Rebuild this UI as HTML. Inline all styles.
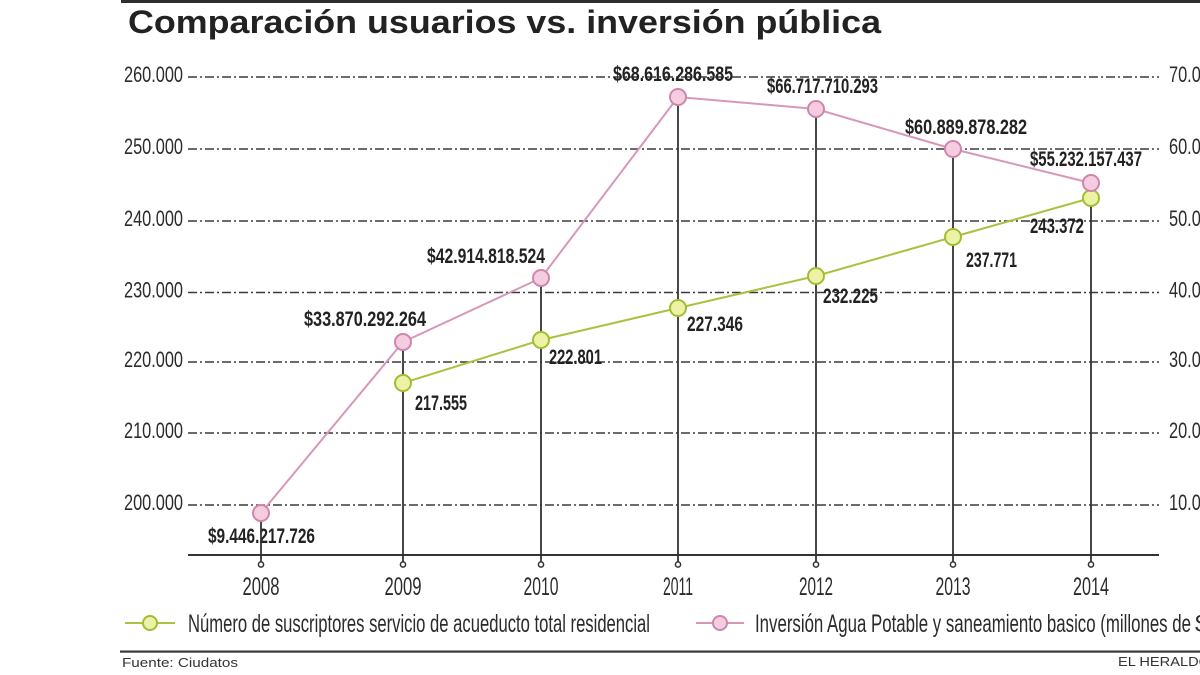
<!DOCTYPE html>
<html>
<head>
<meta charset="utf-8">
<style>
  html, body { margin: 0; padding: 0; background: #ffffff; }
  body { width: 1200px; height: 675px; overflow: hidden; }
  svg { display: block; }
  .cond { font-family: "Liberation Sans Narrow", "Liberation Sans", sans-serif; fill: #2b2b2b; }
  .ax { font-size: 22px; }
  .lbl { font-size: 21px; font-weight: bold; fill: #222; }
  .yr { font-size: 25px; }
  .leg { font-size: 25px; }
</style>
</head>
<body>
<svg width="1200" height="675" viewBox="0 0 1200 675" xmlns="http://www.w3.org/2000/svg">
  <rect x="0" y="0" width="1200" height="675" fill="#ffffff"/>

  <!-- top rule -->
  <rect x="121" y="0" width="1079" height="3" fill="#2e2e2e"/>

  <!-- title -->
  <text x="128" y="33" font-family="Liberation Sans, sans-serif" font-weight="bold" font-size="32" fill="#222" textLength="753" lengthAdjust="spacingAndGlyphs">Comparación usuarios vs. inversión pública</text>

  <!-- gridlines -->
  <g stroke="#3a3a3a" stroke-width="1.6" stroke-dasharray="9 3 2 3" fill="none">
    <line x1="188" y1="77" x2="1159" y2="77"/>
    <line x1="188" y1="149" x2="1159" y2="149"/>
    <line x1="188" y1="221" x2="1159" y2="221"/>
    <line x1="188" y1="292.5" x2="1159" y2="292.5"/>
    <line x1="188" y1="362" x2="1159" y2="362"/>
    <line x1="188" y1="433" x2="1159" y2="433"/>
    <line x1="188" y1="505" x2="1159" y2="505"/>
  </g>

  <!-- left axis labels -->
  <g class="cond ax">
    <text x="124" y="82" textLength="59" lengthAdjust="spacingAndGlyphs">260.000</text>
    <text x="124" y="154" textLength="59" lengthAdjust="spacingAndGlyphs">250.000</text>
    <text x="124" y="226" textLength="59" lengthAdjust="spacingAndGlyphs">240.000</text>
    <text x="124" y="297.5" textLength="59" lengthAdjust="spacingAndGlyphs">230.000</text>
    <text x="124" y="367" textLength="59" lengthAdjust="spacingAndGlyphs">220.000</text>
    <text x="124" y="438" textLength="59" lengthAdjust="spacingAndGlyphs">210.000</text>
    <text x="124" y="510" textLength="59" lengthAdjust="spacingAndGlyphs">200.000</text>
  </g>

  <!-- right axis labels (clipped) -->
  <g class="cond ax">
    <text x="1169" y="82" textLength="50" lengthAdjust="spacingAndGlyphs">70.000</text>
    <text x="1169" y="154" textLength="50" lengthAdjust="spacingAndGlyphs">60.000</text>
    <text x="1169" y="226" textLength="50" lengthAdjust="spacingAndGlyphs">50.000</text>
    <text x="1169" y="297.5" textLength="50" lengthAdjust="spacingAndGlyphs">40.000</text>
    <text x="1169" y="367" textLength="50" lengthAdjust="spacingAndGlyphs">30.000</text>
    <text x="1169" y="438" textLength="50" lengthAdjust="spacingAndGlyphs">20.000</text>
    <text x="1169" y="510" textLength="50" lengthAdjust="spacingAndGlyphs">10.000</text>
  </g>

  <!-- x baseline -->
  <line x1="188" y1="555" x2="1159" y2="555" stroke="#333" stroke-width="2"/>

  <!-- data labels: pink -->
  <g class="cond lbl">
    <text x="208" y="543" textLength="107" lengthAdjust="spacingAndGlyphs">$9.446.217.726</text>
    <text x="304" y="326" textLength="122" lengthAdjust="spacingAndGlyphs">$33.870.292.264</text>
    <text x="427" y="263" textLength="118" lengthAdjust="spacingAndGlyphs">$42.914.818.524</text>
    <text x="613" y="81" textLength="120" lengthAdjust="spacingAndGlyphs">$68.616.286.585</text>
    <text x="767" y="93" textLength="111" lengthAdjust="spacingAndGlyphs">$66.717.710.293</text>
    <text x="905" y="134" textLength="122" lengthAdjust="spacingAndGlyphs">$60.889.878.282</text>
    <text x="1030" y="166" textLength="112" lengthAdjust="spacingAndGlyphs">$55.232.157.437</text>
  </g>
  <!-- data labels: green -->
  <g class="cond lbl">
    <text x="415" y="410" textLength="52" lengthAdjust="spacingAndGlyphs">217.555</text>
    <text x="549" y="364" textLength="53" lengthAdjust="spacingAndGlyphs">222.801</text>
    <text x="687" y="331" textLength="56" lengthAdjust="spacingAndGlyphs">227.346</text>
    <text x="823" y="303" textLength="55" lengthAdjust="spacingAndGlyphs">232.225</text>
    <text x="966" y="267" textLength="51" lengthAdjust="spacingAndGlyphs">237.771</text>
    <text x="1030" y="233" textLength="54" lengthAdjust="spacingAndGlyphs">243.372</text>
  </g>

  <!-- vertical drop lines -->
  <g stroke="#333" stroke-width="1.8">
    <line x1="261" y1="513" x2="261" y2="562"/>
    <line x1="403" y1="342" x2="403" y2="562"/>
    <line x1="541" y1="278" x2="541" y2="562"/>
    <line x1="678" y1="97" x2="678" y2="562"/>
    <line x1="816" y1="109" x2="816" y2="562"/>
    <line x1="953" y1="149" x2="953" y2="562"/>
    <line x1="1091" y1="183" x2="1091" y2="562"/>
  </g>
  <!-- tick circles -->
  <g stroke="#333" stroke-width="1.5" fill="#fff">
    <circle cx="261" cy="564.5" r="2.6"/>
    <circle cx="403" cy="564.5" r="2.6"/>
    <circle cx="541" cy="564.5" r="2.6"/>
    <circle cx="678" cy="564.5" r="2.6"/>
    <circle cx="816" cy="564.5" r="2.6"/>
    <circle cx="953" cy="564.5" r="2.6"/>
    <circle cx="1091" cy="564.5" r="2.6"/>
  </g>

  <!-- green series -->
  <polyline points="403,383 541,340 678,308 816,276 953,237 1091,198" fill="none" stroke="#a9c23f" stroke-width="2"/>
  <g fill="#eef2a6" stroke="#a2bd32" stroke-width="2">
    <circle cx="403" cy="383" r="8"/>
    <circle cx="541" cy="340" r="8"/>
    <circle cx="678" cy="308" r="8"/>
    <circle cx="816" cy="276" r="8"/>
    <circle cx="953" cy="237" r="8"/>
    <circle cx="1091" cy="198" r="8"/>
  </g>

  <!-- pink series -->
  <polyline points="261,513 403,342 541,278 678,97 816,109 953,149 1091,183" fill="none" stroke="#d797ba" stroke-width="2"/>
  <g fill="#f6cde0" stroke="#cf86ad" stroke-width="2">
    <circle cx="261" cy="513" r="8"/>
    <circle cx="403" cy="342" r="8"/>
    <circle cx="541" cy="278" r="8"/>
    <circle cx="678" cy="97" r="8"/>
    <circle cx="816" cy="109" r="8"/>
    <circle cx="953" cy="149" r="8"/>
    <circle cx="1091" cy="183" r="8"/>
  </g>

  <!-- year labels -->
  <g class="cond yr" text-anchor="middle">
    <text x="261" y="595" textLength="37" lengthAdjust="spacingAndGlyphs">2008</text>
    <text x="403" y="595" textLength="37" lengthAdjust="spacingAndGlyphs">2009</text>
    <text x="541" y="595" textLength="35" lengthAdjust="spacingAndGlyphs">2010</text>
    <text x="678" y="595" textLength="30" lengthAdjust="spacingAndGlyphs">2011</text>
    <text x="816" y="595" textLength="34" lengthAdjust="spacingAndGlyphs">2012</text>
    <text x="953" y="595" textLength="35" lengthAdjust="spacingAndGlyphs">2013</text>
    <text x="1091" y="595" textLength="36" lengthAdjust="spacingAndGlyphs">2014</text>
  </g>

  <!-- legend -->
  <line x1="125" y1="623" x2="175" y2="623" stroke="#a9c23f" stroke-width="2"/>
  <circle cx="150" cy="623" r="7" fill="#eef2a6" stroke="#a2bd32" stroke-width="2"/>
  <text class="cond leg" x="188" y="632" textLength="462" lengthAdjust="spacingAndGlyphs">Número de suscriptores servicio de acueducto total residencial</text>

  <line x1="696" y1="623" x2="744" y2="623" stroke="#d797ba" stroke-width="2"/>
  <circle cx="720" cy="623" r="7" fill="#f6cde0" stroke="#cf86ad" stroke-width="2"/>
  <text class="cond leg" x="755" y="632" textLength="436" lengthAdjust="spacingAndGlyphs">Inversión Agua Potable y saneamiento basico (millones de</text>
  <text class="cond leg" x="1195" y="632">$)</text>

  <!-- bottom rule -->
  <rect x="120" y="650.5" width="1080" height="2.2" fill="#3a3a3a"/>

  <!-- footer -->
  <text x="122" y="667" font-family="Liberation Sans, sans-serif" font-size="13" fill="#333" textLength="116" lengthAdjust="spacingAndGlyphs">Fuente: Ciudatos</text>
  <text x="1118" y="666" font-family="Liberation Sans, sans-serif" font-size="13" fill="#333" textLength="92" lengthAdjust="spacingAndGlyphs">EL HERALDO</text>
</svg>
</body>
</html>
